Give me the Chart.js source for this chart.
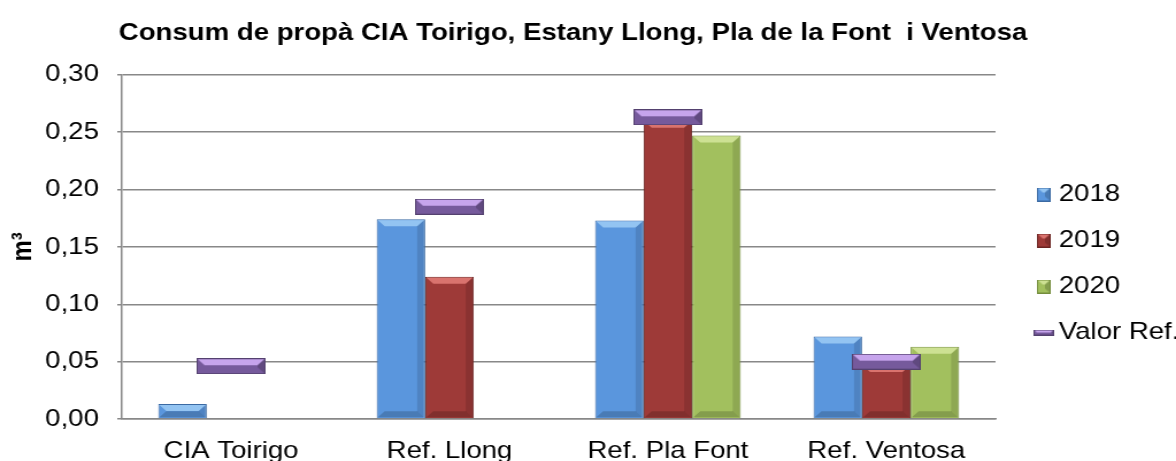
<!DOCTYPE html>
<html>
<head>
<meta charset="utf-8">
<script src="https://cdn.jsdelivr.net/npm/chart.js@4/dist/chart.umd.min.js"></script>
<style>
  html, body { margin: 0; padding: 0; background: #fff; overflow: hidden; }
  /* l'original és una imatge estirada en horitzontal */
  #estirat { width: 1023px; height: 461px; transform: scaleX(1.1496); transform-origin: 0 0; }
</style>
</head>
<body>
<div id="estirat"><canvas id="consum" width="1023" height="461"></canvas></div>
<script>
// dades llegides del gràfic
var categories = ['CIA Toirigo', 'Ref. Llong', 'Ref. Pla Font', 'Ref. Ventosa'];
var valors2018 = [0.013, 0.174, 0.173, 0.072];
var valors2019 = [null, 0.124, 0.260, 0.047];
var valors2020 = [null, null, 0.247, 0.063];
var valorRef = [0.046, 0.185, 0.263, 0.050];
var yTicks = [0, 0.05, 0.10, 0.15, 0.20, 0.25, 0.30];

var FONT = "'Liberation Sans', Arial, sans-serif";
var GRIS = '#888888';

var blau = { cara: '#5a96dd', clar: '#93c4f2', fosc: '#3b6aa3' };
var vermell = { cara: '#9e3a38', clar: '#d9736e', fosc: '#6b2422' };
var verd = { cara: '#a2c05e', clar: '#cde193', fosc: '#748d3c' };
var lila = { cara: '#765a9c', clar: '#c6a4ec', fosc: '#54416f' };

// peça amb bisell (marcador del valor de referència i icones de la llegenda)
function barreta(col, w, h, b) {
    var c = document.createElement('canvas');
    c.width = w;
    c.height = h;
    var g = c.getContext('2d');
    g.fillStyle = col.fosc;
    g.fillRect(0, 0, w, h);
    g.fillStyle = col.cara;
    g.fillRect(1, 1, w - 2, h - 2);
    g.fillStyle = col.clar;
    g.beginPath();
    g.moveTo(1, 1);
    g.lineTo(w - 1, 1);
    g.lineTo(w - 1 - b, 1 + b);
    g.lineTo(1 + b, 1 + b);
    g.closePath();
    g.fill();
    g.fillStyle = 'rgba(0,0,0,0.18)';
    g.beginPath();
    g.moveTo(w - 1, 1);
    g.lineTo(w - 1, h - 1);
    g.lineTo(w - 1 - b, h - 1 - b);
    g.lineTo(w - 1 - b, 1 + b);
    g.closePath();
    g.fill();
    return c;
}

var icones = [
    barreta(blau, 12, 14, 4),
    barreta(vermell, 12, 14, 4),
    barreta(verd, 12, 14, 4),
    barreta(lila, 18, 6, 2)
];

var bisell = {
    id: 'bisell',
    afterDatasetDraw: function (chart, args) {
        var meta = args.meta;
        if (meta.type !== 'bar') return;
        var col = [blau, vermell, verd][args.index];
        var g = chart.ctx;
        meta.data.forEach(function (bar, i) {
            if (chart.data.datasets[args.index].data[i] == null) return;
            var p = bar.getProps(['x', 'y', 'base', 'width'], true);
            var l = p.x - p.width / 2 + 1, r = p.x + p.width / 2 - 1;
            var t = p.y + 1, bt = p.base - 1;
            var b = Math.min(6, (bt - t) / 2);
            g.save();
            g.fillStyle = col.clar;
            g.beginPath();
            g.moveTo(l, t); g.lineTo(r, t); g.lineTo(r - b, t + b); g.lineTo(l + b, t + b);
            g.closePath();
            g.fill();
            g.fillStyle = 'rgba(0,0,0,0.12)';
            g.beginPath();
            g.moveTo(r, t); g.lineTo(r, bt); g.lineTo(r - b, bt - b); g.lineTo(r - b, t + b);
            g.closePath();
            g.fill();
            g.fillStyle = 'rgba(0,0,0,0.18)';
            g.beginPath();
            g.moveTo(l, bt); g.lineTo(r, bt); g.lineTo(r - b, bt - b); g.lineTo(l + b, bt - b);
            g.closePath();
            g.fill();
            g.restore();
        });
    }
};

// col·loca la llegenda i el títol on són a l'original
var posicions = {
    id: 'posicions',
    afterLayout: function (chart) {
        var lg = chart.legend;
        var dy = 33;
        var dx = 885 - lg.left;
        lg.top += dy; lg.bottom += dy;
        lg.left += dx; lg.right += dx;
        var tt = chart.titleBlock;
        var tx = 498.5 - (tt.left + tt.right) / 2;
        tt.left += tx; tt.right += tx;
    }
};

var chart = new Chart(document.getElementById('consum'), {
    type: 'bar',
    data: {
        labels: categories,
        datasets: [
            { label: '2018', data: valors2018, backgroundColor: blau.cara, borderColor: blau.fosc, borderWidth: 1, order: 1 },
            { label: '2019', data: valors2019, backgroundColor: vermell.cara, borderColor: vermell.fosc, borderWidth: 1, order: 1 },
            { label: '2020', data: valors2020, backgroundColor: verd.cara, borderColor: verd.fosc, borderWidth: 1, order: 1 },
            {
                type: 'line', label: 'Valor Ref.', data: valorRef, showLine: false,
                pointStyle: barreta(lila, 60, 16, 6), pointRadius: 10, order: 0
            }
        ]
    },
    options: {
        responsive: false,
        animation: false,
        layout: { padding: { left: 0, right: 0, top: 0, bottom: 0 } },
        datasets: { bar: { categoryPercentage: 0.667, barPercentage: 1 } },
        plugins: {
            title: {
                display: true,
                text: 'Consum de propà CIA Toirigo, Estany Llong, Pla de la Font  i Ventosa',
                color: '#000',
                font: { family: FONT, size: 24, weight: 'bold' },
                padding: { top: 19, bottom: 27 }
            },
            legend: {
                position: 'right',
                labels: {
                    usePointStyle: true,
                    pointStyleWidth: 2,
                    padding: 22,
                    color: '#000',
                    font: { family: FONT, size: 24 },
                    sort: function (a, b) { return a.datasetIndex - b.datasetIndex; },
                    generateLabels: function (chart) {
                        var items = Chart.defaults.plugins.legend.labels.generateLabels(chart);
                        items.forEach(function (it) { it.pointStyle = icones[it.datasetIndex]; });
                        return items;
                    }
                }
            },
            tooltip: { enabled: false }
        },
        scales: {
            x: {
                grid: { display: false },
                border: { color: GRIS, width: 1.5 },
                ticks: { color: '#000', font: { family: FONT, size: 24 }, padding: 10 },
                afterFit: function (s) { s.height = 42; }
            },
            y: {
                min: 0,
                max: 0.3,
                afterBuildTicks: function (s) { s.ticks = yTicks.map(function (v) { return { value: v }; }); },
                grid: { color: GRIS, lineWidth: 1.5, tickLength: 4 },
                border: { color: GRIS, width: 1.5 },
                ticks: {
                    color: '#000',
                    font: { family: FONT, size: 24 },
                    padding: 16,
                    callback: function (v) { return v.toFixed(2).replace('.', ','); }
                },
                title: {
                    display: true,
                    text: 'm³',
                    color: '#000',
                    font: { family: FONT, size: 24, weight: 'bold' },
                    padding: { top: 6, bottom: 0 }
                },
                afterFit: function (s) { s.width = 106; }
            }
        }
    },
    plugins: [bisell, posicions]
});

// ajusta el marge dret perquè l'àrea de dibuix acabi on la de l'original
var sobra = 866 - chart.chartArea.right;
chart.options.layout.padding.right = Math.max(0, chart.options.layout.padding.right - sobra);
chart.update();
</script>
</body>
</html>
